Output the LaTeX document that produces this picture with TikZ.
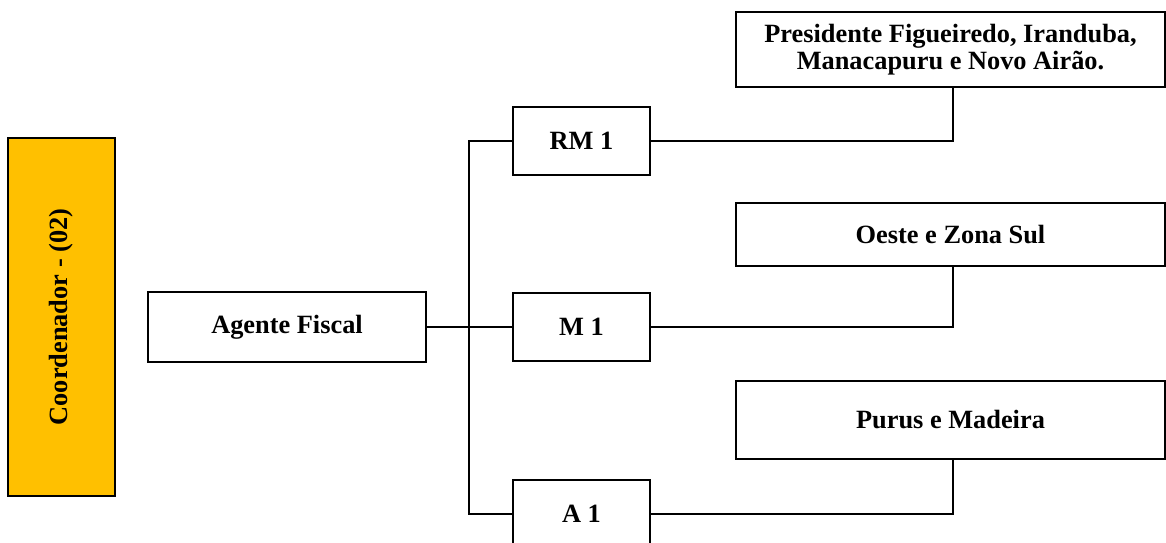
\documentclass[tikz,border=0pt]{standalone}
\usepackage{fontspec}
\setmainfont{Liberation Serif}
\usepackage{tikz}
\definecolor{gold}{HTML}{FFC000}

\begin{document}
\begin{tikzpicture}[x=0.02cm,y=-0.02cm,
    font=\fontsize{15}{17}\selectfont\bfseries,
    box/.style={rectangle,draw,line width=1.1pt,inner sep=2pt},
    unit/.style={box,minimum width=2.74cm,minimum height=1.36cm},
    area/.style={box,minimum width=8.58cm,align=center},
    link/.style={line width=0.9pt}]
    \useasboundingbox (0,0) rectangle (1166,542);
    \node[box] (coord) [fill=gold, rotate=90, minimum width=7.16cm, minimum height=2.14cm] at (61.5,317) {Coordenador - (02)};
    \node[box] (agente) [minimum width=5.56cm, minimum height=1.4cm] at (287,327) {Agente Fiscal};
    \node[unit] (rm1) at (581.5,141) {RM 1};
    \node[unit] (m1) at (581.5,327) {M 1};
    \node[unit] (a1) at (581.5,514) {A 1};
    \node[area] (pres) [minimum height=1.5cm] at (950.5,49.5) {Presidente Figueiredo, Iranduba,\\[-1.5pt]Manacapuru e Novo Airão.};
    \node[area] (oeste) [minimum height=1.26cm] at (950.5,234.5) {Oeste e Zona Sul};
    \node[area] (purus) [minimum height=1.56cm] at (950.5,420) {Purus e Madeira};
    \coordinate (trunk) at (469,327);
    \draw[link] (agente.east) -- (trunk) -- (m1.west);
    \draw[link] (rm1.west) -| (trunk) |- (a1.west);
    \draw[link] (rm1.east) -| ([xshift=0.05cm]pres.south);
    \draw[link] (m1.east) -| ([xshift=0.05cm]oeste.south);
    \draw[link] (a1.east) -| ([xshift=0.05cm]purus.south);
\end{tikzpicture}
\end{document}
